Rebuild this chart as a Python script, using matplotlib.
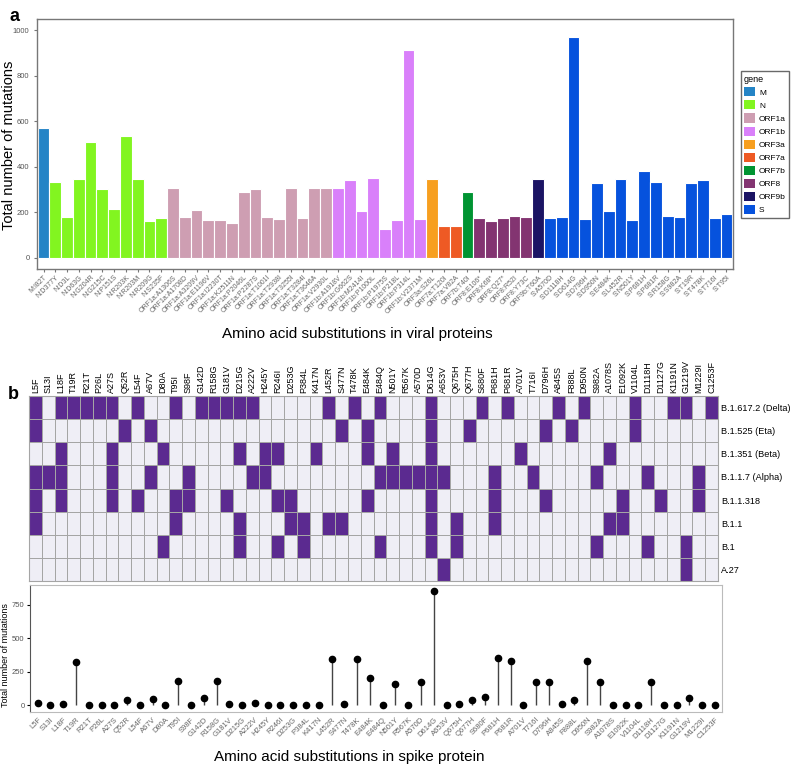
import numpy as np
import matplotlib.pyplot as plt
from matplotlib.patches import Patch
from matplotlib.colors import ListedColormap

plt.rcParams['font.family'] = ['Liberation Sans', 'DejaVu Sans']

# ---- panel a: substitutions in all viral proteins
mut_labels = ["M:I82T",
              "N:D377Y", "N:D3L", "N:D63G", "N:G204R", "N:G215C", "N:P151S",
              "N:R203K", "N:R203M", "N:R209G", "N:S235F",
              "ORF1a:A1306S", "ORF1a:A1708D", "ORF1a:A3209V", "ORF1a:E1196V",
              "ORF1a:I2230T", "ORF1a:K2511N", "ORF1a:P2046L", "ORF1a:P2287S",
              "ORF1a:T1001I", "ORF1a:T2938I", "ORF1a:T3255I", "ORF1a:T3284I",
              "ORF1a:T3646A", "ORF1a:V2930L",
              "ORF1b:A1918V", "ORF1b:G662S", "ORF1b:M2414I", "ORF1b:P1000L",
              "ORF1b:P1975S", "ORF1b:P218L", "ORF1b:P314L", "ORF1b:V2371M",
              "ORF3a:S26L", "ORF7a:T120I", "ORF7a:V82A", "ORF7b:T40I",
              "ORF8:E106*", "ORF8:K68*", "ORF8:Q27*", "ORF8:R52I", "ORF8:Y73C",
              "ORF9b:T60A",
              "S:A570D", "S:D1118H", "S:D614G", "S:D796H", "S:D950N", "S:E484K",
              "S:L452R", "S:N501Y", "S:P681H", "S:P681R", "S:R158G", "S:S982A",
              "S:T19R", "S:T478K", "S:T716I", "S:T95I"]
mut_counts = [572,
              331, 179, 346, 510, 302, 214, 535, 345, 163, 173,
              306, 179, 211, 167, 167, 151, 289, 304, 179, 172, 306, 173, 305, 305,
              306, 340, 207, 349, 125, 166, 913, 169,
              347, 138, 138, 287,
              174, 163, 176, 182, 180,
              346,
              173, 179, 971, 169, 327, 205, 345, 164, 381, 333, 182, 179,
              327, 342, 173, 191]
gene_names = ["M", "N", "ORF1a", "ORF1b", "ORF3a", "ORF7a", "ORF7b", "ORF8", "ORF9b", "S"]
gene_colors = ["#2484C6", "#82F520", "#CE9EB2", "#D980FA", "#F79F1F",
               "#EE5A24", "#009432", "#833471", "#1B1464", "#0652DD"]

# ---- panel b: spike substitutions per lineage
spike_labels = ["L5F", "S13I", "L18F", "T19R", "R21T", "P26L", "A27S", "Q52R", "L54F",
                "A67V", "D80A", "T95I", "S98F", "G142D", "R158G", "G181V", "D215G",
                "A222V", "H245Y", "R246I", "D253G", "P384L", "K417N", "L452R", "S477N",
                "T478K", "E484K", "E484Q", "N501Y", "R567K", "A570D", "D614G", "A653V",
                "Q675H", "Q677H", "S680F", "P681H", "P681R", "A701V", "T716I", "D796H",
                "A845S", "F888L", "D950N", "S982A", "A1078S", "E1092K", "V1104L",
                "D1118H", "D1127G", "K1191N", "G1219V", "M1229I", "C1253F"]
spike_counts = [15, 1, 8, 325, 2, 1, 1, 40, 2, 45, 2, 185, 2, 57, 182, 12, 5, 17,
                1, 1, 1, 1, 1, 342, 12, 342, 207, 1, 160, 2, 175, 855, 3, 12, 40,
                65, 350, 332, 2, 175, 175, 12, 40, 327, 177, 2, 2, 2, 177, 2, 2,
                55, 4, 4]

lineages = ["B.1.617.2 (Delta)", "B.1.525 (Eta)", "B.1.351 (Beta)", "B.1.1.7 (Alpha)",
            "B.1.1.318", "B.1.1", "B.1", "A.27"]
delta = ["L5F", "L18F", "T19R", "R21T", "P26L", "A27S", "L54F", "T95I", "G142D",
         "R158G", "G181V", "D215G", "A222V", "L452R", "T478K", "E484Q", "D614G",
         "S680F", "P681R", "A845S", "D950N", "V1104L", "K1191N", "G1219V", "C1253F"]
eta = ["L5F", "Q52R", "A67V", "S477N", "E484K", "D614G", "Q677H", "D796H", "F888L",
       "V1104L"]
beta = ["L18F", "A27S", "D80A", "D215G", "H245Y", "R246I", "K417N", "E484K", "N501Y",
        "D614G", "A701V", "A1078S"]
alpha = ["L5F", "S13I", "L18F", "A27S", "A67V", "S98F", "A222V", "H245Y", "E484Q",
         "N501Y", "R567K", "A570D", "D614G", "A653V", "P681H", "T716I", "S982A",
         "D1118H", "M1229I"]
b11318 = ["L5F", "L18F", "A27S", "L54F", "T95I", "S98F", "G181V", "R246I", "D253G",
          "E484K", "D614G", "P681H", "D796H", "E1092K", "D1127G", "M1229I"]
b11 = ["L5F", "T95I", "D215G", "D253G", "P384L", "L452R", "S477N", "D614G", "Q675H",
       "P681H", "A1078S", "E1092K"]
b1 = ["D80A", "D215G", "R246I", "P384L", "E484Q", "D614G", "Q675H", "S982A", "D1118H",
      "G1219V"]
a27 = ["A653V", "G1219V"]
lineage_sets = [delta, eta, beta, alpha, b11318, b11, b1, a27]

fig = plt.figure(figsize=(7.93, 7.66), dpi=100)

# ---------------- panel a
ax1 = fig.add_axes([0.0467, 0.6488, 0.8776, 0.3264])
genes = [m.split(":")[0] for m in mut_labels]
bar_cols = [gene_colors[gene_names.index(g)] for g in genes]
xa = np.arange(len(mut_labels))
ax1.bar(xa, mut_counts, width=1.0, color=bar_cols, edgecolor="white", linewidth=0.8)
ax1.set_xlim(-0.55, len(mut_labels) - 0.45)
ax1.set_ylim(-50, 1050)
ax1.set_yticks([0, 200, 400, 600, 800, 1000])
ax1.set_xticks(xa)
ax1.set_xticklabels(mut_labels, rotation=45, ha="right", rotation_mode="anchor",
                    fontsize=5, color="#666666")
ax1.tick_params(axis="y", labelsize=5.5, labelcolor="#555555", length=2, color="#777777")
ax1.tick_params(axis="x", length=2, color="#777777", pad=1.5)
for s in ax1.spines.values():
    s.set_color("#777777")
    s.set_linewidth(1.0)
fig.text(0.011, 1 - 145 / 766, "Total number of mutations", fontsize=10.5,
         rotation=90, ha="center", va="center")
fig.text(0.45, 1 - 334 / 766, "Amino acid substitutions in viral proteins",
         fontsize=11, ha="center", va="center")

handles = [Patch(facecolor=c, edgecolor="none", label=g) for g, c in zip(gene_names, gene_colors)]
leg = fig.legend(handles=handles, title="gene", loc="upper left",
                 bbox_to_anchor=(0.934, 0.907), borderaxespad=0, fontsize=6,
                 title_fontsize=6.5, frameon=True, fancybox=False, handlelength=1.3,
                 handleheight=1.3, labelspacing=0.45, handletextpad=0.5, borderpad=0.4)
leg.get_frame().set_edgecolor("#444444")
leg.get_frame().set_linewidth(1.0)
leg._legend_box.align = "left"

# ---------------- panel b heatmap
ax2 = fig.add_axes([0.0366, 0.2415, 0.8688, 0.2415])
mat = np.zeros((len(lineages), len(spike_labels)))
for i, muts in enumerate(lineage_sets):
    for m in muts:
        mat[i, spike_labels.index(m)] = 1
ax2.pcolormesh(mat, cmap=ListedColormap(["#EFEEF6", "#5B2A90"]), edgecolors="#A5A5A5",
               linewidth=0.6, vmin=0, vmax=1)
ax2.set_xlim(0, len(spike_labels))
ax2.set_ylim(len(lineages), 0)
ax2.xaxis.tick_top()
ax2.set_xticks(np.arange(len(spike_labels)) + 0.5)
ax2.set_xticklabels(spike_labels, rotation=90, fontsize=6.5)
ax2.yaxis.tick_right()
ax2.set_yticks(np.arange(len(lineages)) + 0.5)
ax2.set_yticklabels(lineages, fontsize=6.6)
ax2.tick_params(length=0, pad=2)
for s in ax2.spines.values():
    s.set_color("#A5A5A5")

# ---------------- panel b lollipop
ax3 = fig.add_axes([0.0378, 0.0705, 0.8727, 0.1658])
xs = np.arange(len(spike_labels))
ax3.vlines(xs, 0, spike_counts, color="#444444", linewidth=1.0)
ax3.plot(xs, spike_counts, "o", color="black", markersize=4.5)
ax3.set_xlim(-0.6, 53.55)
ax3.set_ylim(-50, 898)
ax3.set_yticks([0, 250, 500, 750])
ax3.set_xticks(xs)
ax3.set_xticklabels(spike_labels, rotation=45, ha="right", rotation_mode="anchor",
                    fontsize=5.5, color="#666666")
ax3.tick_params(axis="y", labelsize=5.5, labelcolor="#555555", length=2.5, pad=1.5)
ax3.tick_params(axis="x", length=0, pad=3)
for s in ax3.spines.values():
    s.set_color("#BBBBBB")
ax3.spines["left"].set_color("#555555")
fig.text(0.0065, 1 - 655 / 766, "Total number of mutations", fontsize=6.5,
         rotation=90, ha="center", va="center")
fig.text(0.44, 1 - 757 / 766, "Amino acid substitutions in spike protein",
         fontsize=11, ha="center", va="center")

fig.text(0.012, 0.99, "a", fontsize=13, fontweight="bold", va="top")
fig.text(0.010, 1 - 386 / 766, "b", fontsize=13, fontweight="bold", va="top")

fig.savefig("out.png", dpi=100)
